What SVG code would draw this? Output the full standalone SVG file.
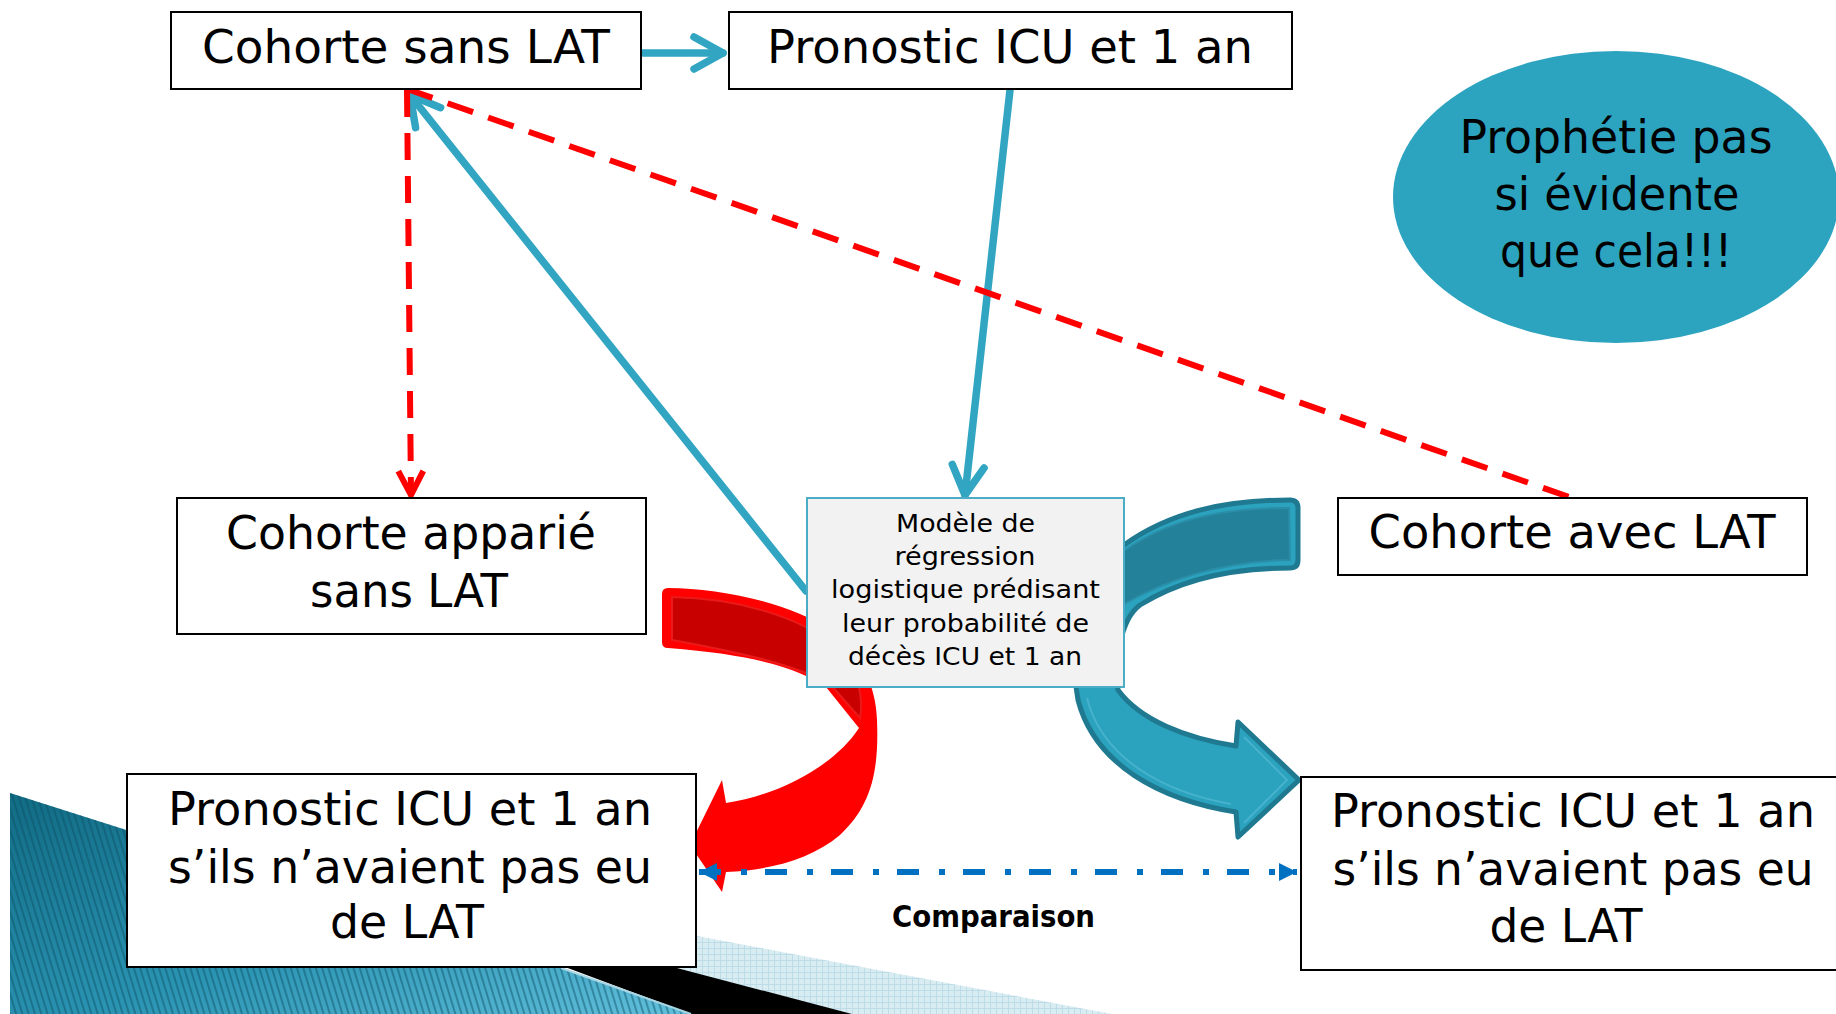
<svg xmlns="http://www.w3.org/2000/svg" width="1836" height="1014" viewBox="0 0 1836 1014">
<style>
.box{fill:#ffffff;stroke:#000000;stroke-width:2}
.t{font-family:"DejaVu Sans","Liberation Sans",sans-serif;font-size:46px;fill:#000;text-anchor:middle}
.tm{font-family:"DejaVu Sans","Liberation Sans",sans-serif;font-size:25px;fill:#000;text-anchor:middle}
.tb{font-family:"DejaVu Sans","Liberation Sans",sans-serif;font-size:30px;font-weight:bold;fill:#000;text-anchor:middle}
.teal{fill:none;stroke:#31a5c2;stroke-width:7.5;stroke-linecap:round}
.reddash{fill:none;stroke:#ff0000;stroke-width:6;stroke-dasharray:27 16}
.bluedash{fill:none;stroke:#0070c0;stroke-width:6;stroke-dasharray:22 20 6 18}
</style>
<defs>
<marker id="chevTeal" markerUnits="userSpaceOnUse" markerWidth="40" markerHeight="40" refX="0" refY="0" orient="auto" overflow="visible">
<path d="M-29,-16 L0,0 L-29,16" fill="none" stroke="#31a5c2" stroke-width="7.5" stroke-linecap="round" stroke-linejoin="round"/>
</marker>
<marker id="chevRed" markerUnits="userSpaceOnUse" markerWidth="40" markerHeight="40" refX="0" refY="0" orient="auto" overflow="visible">
<path d="M-24,-12.5 L0,0 L-24,12.5" fill="none" stroke="#ff0000" stroke-width="6" stroke-linejoin="miter"/>
</marker>
<marker id="triBlue" markerUnits="userSpaceOnUse" markerWidth="30" markerHeight="30" refX="0" refY="0" orient="auto-start-reverse" overflow="visible">
<path d="M-18,-9 L0,0 L-18,9 Z" fill="#0070c0"/>
</marker>
<linearGradient id="tealGrad" x1="0" y1="0" x2="1" y2="1">
<stop offset="0" stop-color="#116b84"/>
<stop offset="0.55" stop-color="#2a93b2"/>
<stop offset="1" stop-color="#62c0dc"/>
</linearGradient>
<pattern id="stripes" patternUnits="userSpaceOnUse" width="6" height="6" patternTransform="rotate(-17)">
<rect x="0" y="0" width="2" height="6" fill="#0a4f63" fill-opacity="0.45"/>
</pattern>
<pattern id="grid" patternUnits="userSpaceOnUse" width="6" height="6">
<rect width="6" height="6" fill="#d9ecf2"/>
<path d="M0,0.5 H6 M0.5,0 V6" stroke="#bcdde8" stroke-width="1"/>
</pattern>
</defs>

<g id="background">
<polygon points="697,936 1112,1014 852,1014 673,968 697,968" fill="url(#grid)"/>
<polygon points="565,967 673,967 852,1014 691,1014" fill="#000000"/>
<polygon points="10,793 561,968 691,1014 10,1014" fill="url(#tealGrad)"/>
<polygon points="10,793 561,968 691,1014 10,1014" fill="url(#stripes)"/>
<line x1="561" y1="968" x2="691" y2="1014" stroke="#a8d6e4" stroke-width="2"/>
</g>

<g id="connectors">
<!-- red curved block arrow -->
<path d="M668,588 C720,588 790,603 830,630 C860,652 876,685 877,720 C879,770 872,805 840,835 C810,860 770,870 726,872 L722,892 L690,845 L722,780 L726,803 C780,795 835,765 859,728 L826,687 C800,670 760,655 668,648 Q662,648 662,642 L662,594 Q662,588 668,588 Z" fill="#ff0000"/>
<path d="M672,597 C735,598 800,616 838,648 C856,665 864,695 860,718 L830,684 C800,668 760,656 672,640 Z" fill="#c80000" stroke="#ea1a1a" stroke-width="2"/>
<!-- teal curved block arrow -->
<path d="M1290,500 Q1298,500 1298,508 L1298,560 Q1298,568 1290,568 C1230,568 1180,580 1140,605 C1120,620 1115,660 1118,690 C1140,720 1185,738 1236,746 L1238,722 L1299,780 L1238,837 L1236,812 C1160,800 1095,765 1078,700 C1068,650 1085,580 1124,545 C1170,512 1225,500 1290,500 Z" fill="#2ba2be" stroke="#1f7990" stroke-width="5" stroke-linejoin="round"/>
<path d="M1289,508 L1290,560 C1230,561 1175,575 1124,604 L1124,551 C1170,518 1225,508 1289,508 Z" fill="#24819a" stroke="#2b8ea8" stroke-width="2"/>
<path d="M1244,737 L1287,780 L1244,823 M1231,804 C1163,792 1102,758 1087,698" fill="none" stroke="#47b2cc" stroke-width="2"/>

<!-- teal straight arrows -->
<line class="teal" x1="641" y1="53" x2="723" y2="53" marker-end="url(#chevTeal)"/>
<line class="teal" x1="1010" y1="90" x2="965" y2="495" marker-end="url(#chevTeal)"/>
<line class="teal" x1="806" y1="591" x2="410" y2="95" marker-end="url(#chevTeal)"/>

<!-- red dashed -->
<line class="reddash" x1="407" y1="90" x2="411" y2="495" marker-end="url(#chevRed)"/>
<line class="reddash" x1="407" y1="89" x2="1572" y2="498"/>

<!-- blue dash-dot comparison -->
<line class="bluedash" x1="699" y1="872" x2="1297" y2="872" marker-start="url(#triBlue)" marker-end="url(#triBlue)"/>
</g>

<g id="node-cohorte-sans-lat">
<rect class="box" x="171" y="12" width="470" height="77"/>
<text class="t" x="406" y="63" textLength="408" lengthAdjust="spacingAndGlyphs">Cohorte sans LAT</text>
</g>

<g id="node-pronostic">
<rect class="box" x="729" y="12" width="563" height="77"/>
<text class="t" x="1010" y="63" textLength="486" lengthAdjust="spacingAndGlyphs">Pronostic ICU et 1 an</text>
</g>

<g id="node-prophetie">
<ellipse cx="1616" cy="197" rx="223" ry="146" fill="#2ca3bf"/>
<text class="t" x="1616" y="153" textLength="313" lengthAdjust="spacingAndGlyphs">Prophétie pas</text>
<text class="t" x="1617" y="210" textLength="245" lengthAdjust="spacingAndGlyphs">si évidente</text>
<text class="t" x="1616" y="267" textLength="232" lengthAdjust="spacingAndGlyphs">que cela!!!</text>
</g>

<g id="node-cohorte-apparie">
<rect class="box" x="177" y="498" width="469" height="136"/>
<text class="t" x="411" y="549" textLength="370" lengthAdjust="spacingAndGlyphs">Cohorte apparié</text>
<text class="t" x="409" y="607" textLength="198" lengthAdjust="spacingAndGlyphs">sans LAT</text>
</g>

<g id="node-modele">
<rect x="807" y="498" width="317" height="189" fill="#f2f2f2" stroke="#4bacc6" stroke-width="2"/>
<text class="tm" x="965.5" y="532" textLength="139" lengthAdjust="spacingAndGlyphs">Modèle de</text>
<text class="tm" x="965" y="565" textLength="141" lengthAdjust="spacingAndGlyphs">régression</text>
<text class="tm" x="965.5" y="598" textLength="269" lengthAdjust="spacingAndGlyphs">logistique prédisant</text>
<text class="tm" x="965.5" y="632" textLength="247" lengthAdjust="spacingAndGlyphs">leur probabilité de</text>
<text class="tm" x="965" y="665" textLength="234" lengthAdjust="spacingAndGlyphs">décès ICU et 1 an</text>
</g>

<g id="node-cohorte-avec-lat">
<rect class="box" x="1338" y="498" width="469" height="77"/>
<text class="t" x="1572" y="548" textLength="407" lengthAdjust="spacingAndGlyphs">Cohorte avec LAT</text>
</g>

<g id="node-pronostic-sans-lat-gauche">
<rect class="box" x="127" y="774" width="569" height="193" stroke-width="2.5"/>
<text class="t" x="410" y="825" textLength="484" lengthAdjust="spacingAndGlyphs">Pronostic ICU et 1 an</text>
<text class="t" x="410" y="883" textLength="484" lengthAdjust="spacingAndGlyphs">s’ils n’avaient pas eu</text>
<text class="t" x="407" y="938" textLength="154" lengthAdjust="spacingAndGlyphs">de LAT</text>
</g>

<g id="node-pronostic-sans-lat-droite">
<rect class="box" x="1301" y="777" width="545" height="193" stroke-width="2.5"/>
<text class="t" x="1573" y="827" textLength="484" lengthAdjust="spacingAndGlyphs">Pronostic ICU et 1 an</text>
<text class="t" x="1573" y="885" textLength="481" lengthAdjust="spacingAndGlyphs">s’ils n’avaient pas eu</text>
<text class="t" x="1566" y="942" textLength="153" lengthAdjust="spacingAndGlyphs">de LAT</text>
</g>

<g id="label-comparaison">
<text class="tb" x="993.5" y="927" textLength="203" lengthAdjust="spacingAndGlyphs">Comparaison</text>
</g>
</svg>
